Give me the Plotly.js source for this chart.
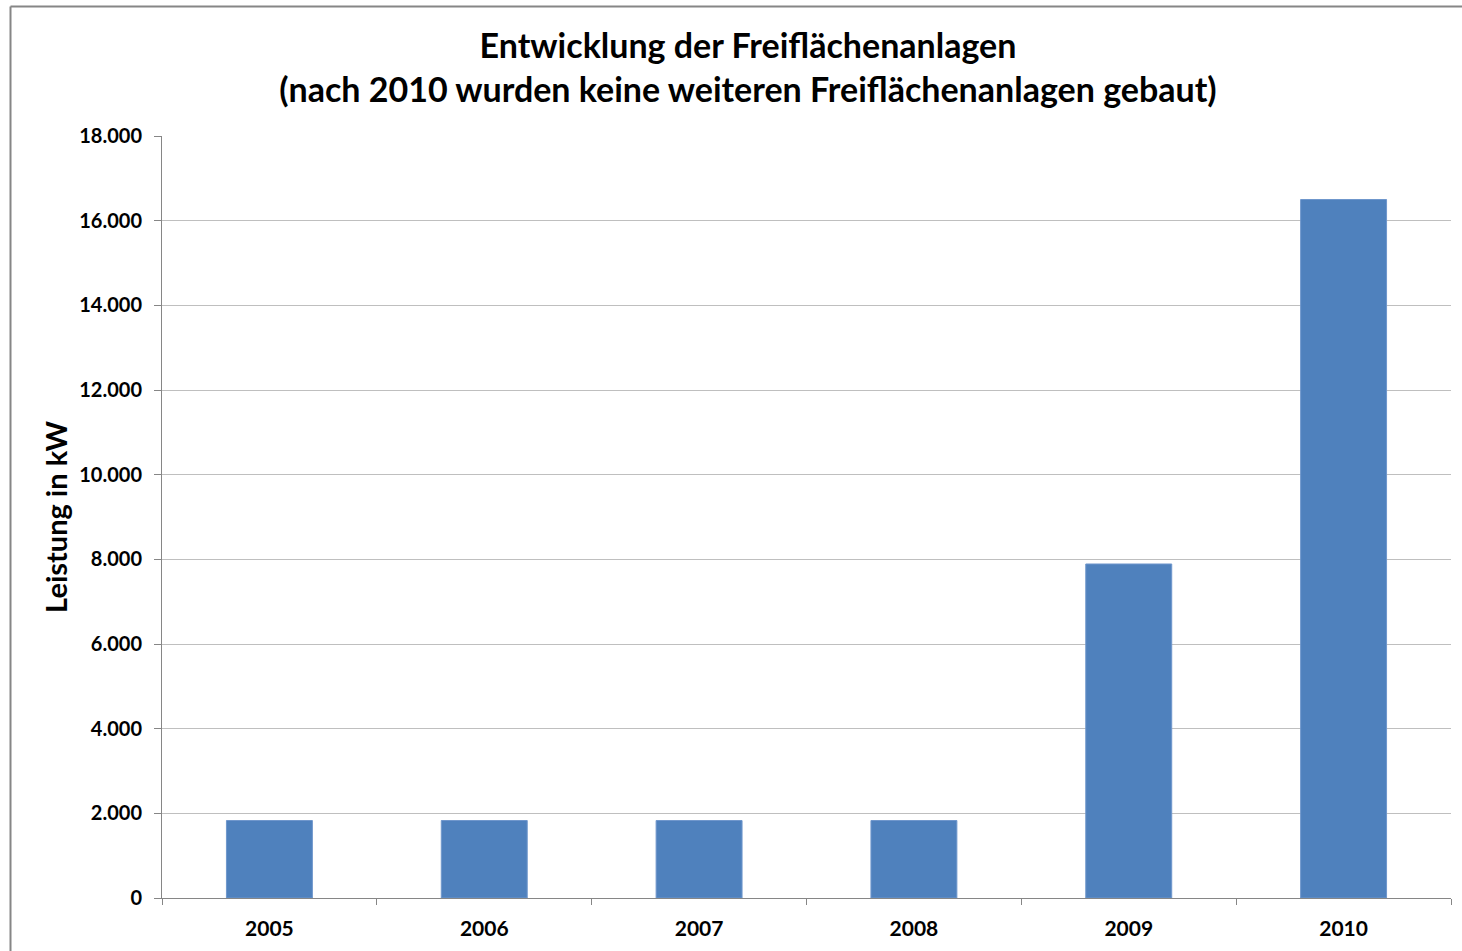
<!DOCTYPE html>
<html>
<head>
<meta charset="utf-8">
<script src="https://cdn.plot.ly/plotly-3.0.1.min.js"></script>
<style>
html,body{margin:0;padding:0;background:#fff;}
#chart{width:1462px;height:951px;}
</style>
</head>
<body>
<div id="chart"></div>
<script>
const years = ["2005", "2006", "2007", "2008", "2009", "2010"];
const leistungKW = [1830, 1830, 1830, 1830, 7890, 16500];
const yTickValues = [0, 2000, 4000, 6000, 8000, 10000, 12000, 14000, 16000, 18000];

const FONT = "Lato, 'Open Sans', sans-serif";
const W = 1462, H = 951;
const mL = 162, mR = 11, mT = 136, mB = 53;
const pw = W - mL - mR, ph = H - mT - mB;
function px(x){ return (x - mL) / pw; }
function py(y){ return (H - mB - y) / ph; }

const trace = {
  type: "bar",
  x: years,
  y: leistungKW,
  marker: {color: "#4f81bd", line: {color: "#6f97cc", width: 1}},
  hoverinfo: "x+y"
};

const layout = {
  width: W, height: H,
  margin: {l: mL, r: mR, t: mT, b: mB},
  paper_bgcolor: "#ffffff",
  plot_bgcolor: "#ffffff",
  separators: ",.",
  bargap: 0.6,
  showlegend: false,
  font: {family: FONT, color: "#000000"},
  title: {
    text: "<b>Entwicklung der Freiflächenanlagen</b><br><b>(nach 2010 wurden keine weiteren Freiflächenanlagen gebaut)</b>",
    font: {family: FONT, size: 34, color: "#000000"},
    x: 748 / W, xref: "container", xanchor: "center",
    y: 1 - 58 / H, yref: "container", yanchor: "middle"
  },
  xaxis: {
    type: "category",
    tickson: "boundaries",
    ticks: "outside", ticklen: 6, tickcolor: "#868686", tickwidth: 1,
    ticklabelstandoff: 12,
    showline: true, linecolor: "#868686", linewidth: 1,
    showgrid: false,
    tickfont: {family: FONT, size: 21, color: "#000000", weight: "bold"},
    fixedrange: true
  },
  yaxis: {
    range: [0, 18000],
    tickvals: yTickValues,
    tickformat: ",.0f",
    ticks: "outside", ticklen: 7, tickcolor: "#868686", tickwidth: 1,
    ticklabelstandoff: 8,
    showline: true, linecolor: "#868686", linewidth: 1,
    showgrid: true, gridcolor: "#bfbfbf", gridwidth: 1,
    zeroline: false,
    tickfont: {family: FONT, size: 20, color: "#000000", weight: "bold"},
    title: {text: "<b>Leistung in kW</b>", font: {family: FONT, size: 29, color: "#000000"}, standoff: 3},
    fixedrange: true
  },
  shapes: [
    {type: "line", xref: "paper", yref: "paper", x0: px(10.5), x1: px(10.5), y0: py(6.5), y1: py(H + 5), line: {color: "#868686", width: 2}},
    {type: "line", xref: "paper", yref: "paper", x0: px(10.5), x1: px(W + 5), y0: py(6.5), y1: py(6.5), line: {color: "#868686", width: 2}}
  ]
};

Plotly.newPlot("chart", [trace], layout, {displayModeBar: false, staticPlot: true});
</script>
</body>
</html>
